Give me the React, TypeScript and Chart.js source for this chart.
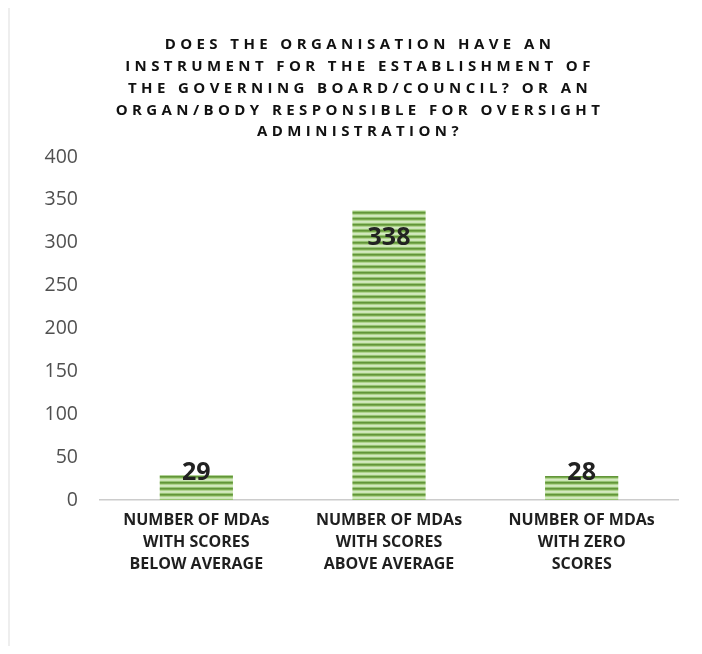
import React, { useEffect, useRef } from "react";
import { Chart, registerables } from "chart.js";

Chart.register(...registerables);

const categories: string[][] = [
  ["NUMBER OF MDAs", "WITH SCORES", "BELOW AVERAGE"],
  ["NUMBER OF MDAs", "WITH SCORES", "ABOVE AVERAGE"],
  ["NUMBER OF MDAs", "WITH ZERO", "SCORES"],
];
const values: number[] = [29, 338, 28];
const titleLines: string[] = [
  "DOES THE ORGANISATION HAVE AN",
  "INSTRUMENT FOR THE ESTABLISHMENT OF",
  "THE GOVERNING BOARD/COUNCIL? OR AN",
  "ORGAN/BODY RESPONSIBLE FOR OVERSIGHT",
  "ADMINISTRATION?",
];
const yMin = 0;
const yMax = 400;
const yStep = 50;

function makeStripePattern(): CanvasPattern | string {
  const c = document.createElement("canvas");
  c.width = 4;
  c.height = 6;
  const g = c.getContext("2d");
  if (!g) return "#8dbf5e";
  const rows = ["#62953a", "#79ab4d", "#afd38e", "#d3e9bf", "#cde6b7", "#98c574"];
  rows.forEach((col, i) => {
    g.fillStyle = col;
    g.fillRect(0, i, 4, 1);
  });
  const p = g.createPattern(c, "repeat");
  return p || "#8dbf5e";
}

const titlePlugin = {
  id: "customTitle",
  afterDraw(chart: any) {
    const ctx = chart.ctx as CanvasRenderingContext2D;
    ctx.save();
    (ctx as any).letterSpacing = "4.4px";
    ctx.font = 'bold 15px "Open Sans"';
    ctx.fillStyle = "#111111";
    ctx.textAlign = "center";
    ctx.textBaseline = "middle";
    const cx = 350;
    titleLines.forEach((line, i) => {
      ctx.fillText(line, cx, 37 + i * 21.8);
    });
    ctx.restore();
  },
};

const dataLabelPlugin = {
  id: "barLabels",
  afterDatasetsDraw(chart: any) {
    const ctx = chart.ctx as CanvasRenderingContext2D;
    const meta = chart.getDatasetMeta(0);
    ctx.save();
    ctx.font = 'bold 25px "Open Sans"';
    ctx.fillStyle = "#222222";
    ctx.textAlign = "center";
    ctx.textBaseline = "middle";
    meta.data.forEach((bar: any, i: number) => {
      const y = Math.min(bar.y + 28, bar.base - 27);
      ctx.fillText(String(values[i]), bar.x, y);
    });
    ctx.restore();
  },
};

export default function App() {
  const ref = useRef<HTMLCanvasElement | null>(null);
  useEffect(() => {
    if (!ref.current) return;
    const chart = new Chart(ref.current, {
      type: "bar",
      data: {
        labels: categories,
        datasets: [
          {
            data: values,
            backgroundColor: makeStripePattern() as any,
            borderWidth: 0,
            barPercentage: 0.38,
            categoryPercentage: 1,
          },
        ],
      },
      options: {
        animation: false,
        responsive: false,
        maintainAspectRatio: false,
        layout: { padding: { top: 149, right: 16, left: 0, bottom: 0 } },
        plugins: {
          legend: { display: false },
          title: { display: false },
          tooltip: { enabled: false },
        },
        scales: {
          x: {
            grid: { display: false, drawTicks: false },
            border: { display: true, color: "#cccccc", width: 1.5 },
            ticks: {
              color: "#1f1f1f",
              font: { family: "Open Sans", size: 16, weight: "bold", lineHeight: 1.35 },
              padding: 10,
              maxRotation: 0,
              autoSkip: false,
            },
            afterFit: (s: any) => {
              s.height = 146;
            },
          },
          y: {
            min: yMin,
            max: yMax,
            grid: { display: false, drawTicks: false },
            border: { display: false },
            ticks: {
              stepSize: yStep,
              color: "#505050",
              font: { family: "Open Sans", size: 19.5 },
              padding: 22,
            },
            afterFit: (s: any) => {
              s.width = 90;
            },
          },
        },
      },
      plugins: [titlePlugin, dataLabelPlugin],
    });
    return () => chart.destroy();
  }, []);
  return (
    <div style={{ borderLeft: "2px solid #eeeeee", width: 684, height: 638, background: "#fff" }}>
      <canvas ref={ref} width={684} height={638} style={{ display: "block" }} />
    </div>
  );
}
